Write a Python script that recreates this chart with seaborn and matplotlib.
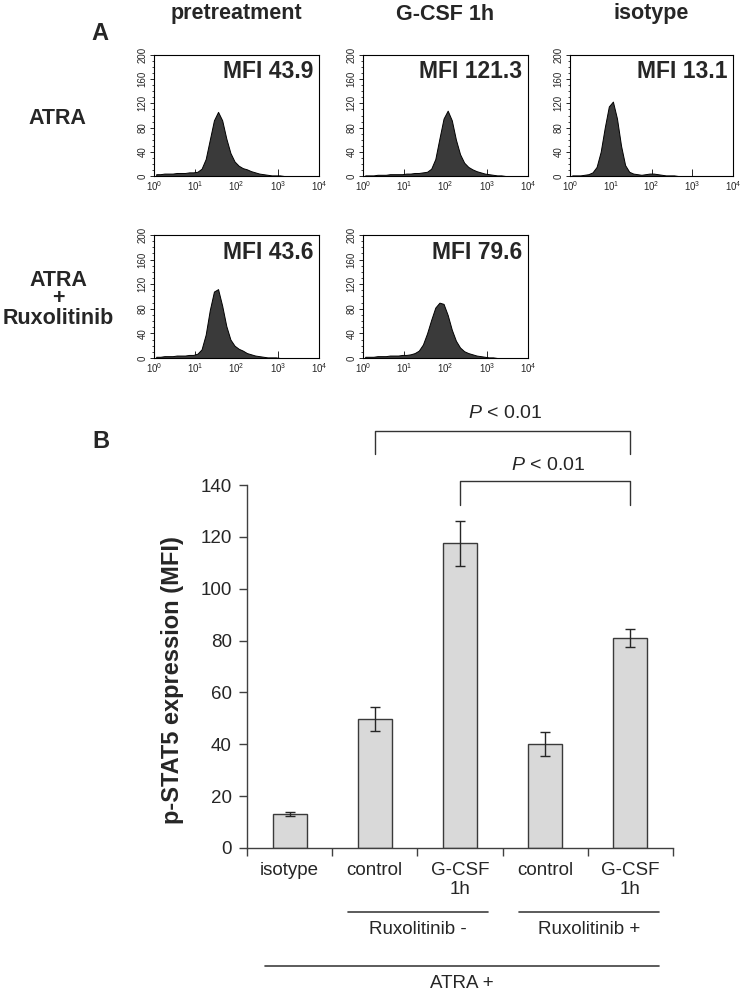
import numpy as np
import pandas as pd
import seaborn as sns
import matplotlib.pyplot as plt
from matplotlib.transforms import blended_transform_factory
from matplotlib.ticker import MultipleLocator, LogLocator, NullFormatter

# ---- panel A: flow histograms (counts per 0.1-decade channel)
log_centers = np.arange(0.05, 4.0, 0.1)

hist_atra_pre = [3, 3, 4, 4, 4, 5, 5, 5, 6, 6, 7, 12, 28, 60, 92, 106, 92, 62, 38, 24,
                 17, 13, 11, 8, 6, 4, 3, 2, 1, 1, 1, 0, 0, 0, 0, 0, 0, 0, 0, 0]
hist_atra_gcsf = [1, 1, 1, 2, 2, 2, 3, 3, 3, 3, 4, 4, 5, 5, 6, 7, 12, 28, 62, 95,
                  108, 92, 60, 36, 22, 15, 11, 8, 6, 4, 3, 2, 1, 1, 0, 0, 0, 0, 0, 0]
hist_isotype = [1, 1, 1, 2, 3, 6, 15, 40, 80, 115, 123, 95, 50, 18, 7, 4, 3, 2, 3, 4,
                4, 3, 2, 1, 1, 1, 0, 0, 0, 0, 0, 0, 0, 0, 0, 0, 0, 0, 0, 0]
hist_rux_pre = [2, 2, 3, 3, 3, 4, 4, 4, 5, 5, 7, 14, 38, 78, 108, 112, 85, 52, 30, 20,
                15, 12, 8, 6, 4, 3, 2, 1, 1, 1, 0, 0, 0, 0, 0, 0, 0, 0, 0, 0]
hist_rux_gcsf = [2, 2, 2, 3, 3, 3, 4, 4, 4, 5, 5, 6, 8, 12, 22, 40, 62, 82, 90, 88,
                 70, 46, 28, 17, 11, 8, 6, 4, 3, 2, 1, 1, 0, 0, 0, 0, 0, 0, 0, 0]

col_titles = ["pretreatment", "G-CSF 1h", "isotype"]
mfi_labels = ["MFI 43.9", "MFI 121.3", "MFI 13.1", "MFI 43.6", "MFI 79.6"]

# ---- panel B: bar chart
conditions = ["isotype", "control (Rux-)", "G-CSF 1h (Rux-)", "control (Rux+)", "G-CSF 1h (Rux+)"]
cond_labels = ["isotype", "control", "G-CSF\n1h", "control", "G-CSF\n1h"]
mfi_mean = [13.1, 49.7, 117.5, 40.1, 81.0]
mfi_err = [0.8, 4.5, 8.6, 4.8, 3.3]

sns.set_style("ticks")
plt.rcParams['font.family'] = ['Liberation Sans', 'DejaVu Sans']
plt.rcParams['mathtext.fontset'] = 'custom'
plt.rcParams['mathtext.rm'] = 'Liberation Sans'
plt.rcParams['mathtext.it'] = 'Liberation Sans:italic'

W, H = 743, 992
fig = plt.figure(figsize=(W / 100, H / 100), dpi=100)


def px_axes(left, top, right, bottom):
    return fig.add_axes([left / W, 1 - bottom / H, (right - left) / W, (bottom - top) / H])


def fig_text(x, y, s, **kw):
    fig.text(x / W, 1 - y / H, s, ha='center', va='center', **kw)


def draw_hist(ax, counts, label):
    sns.histplot(x=10 ** log_centers, weights=counts, bins=40, binrange=(0, 4),
                 log_scale=True, element='poly', fill=True, color='#3a3a3a',
                 edgecolor='black', linewidth=0.7, alpha=1, ax=ax)
    ax.set_xlim(1, 1e4)
    ax.set_ylim(0, 200)
    ax.set_xlabel('')
    ax.set_ylabel('')
    for s in ax.spines.values():
        s.set_visible(True)
        s.set_linewidth(0.8)
        s.set_color('black')
    ax.set_xticks([1, 10, 100, 1000, 10000])
    ax.set_xticklabels([r'$10^{0}$', r'$10^{1}$', r'$10^{2}$', r'$10^{3}$', r'$10^{4}$'], fontsize=7)
    ax.xaxis.set_minor_locator(LogLocator(base=10, subs=np.arange(2, 10)))
    ax.xaxis.set_minor_formatter(NullFormatter())
    ax.set_yticks(range(0, 201, 40))
    ax.set_yticklabels([str(v) for v in range(0, 201, 40)], rotation=90, va='center', fontsize=7)
    ax.yaxis.set_minor_locator(MultipleLocator(10))
    ax.tick_params(axis='x', which='major', direction='in', length=5, width=0.7, pad=2)
    ax.tick_params(axis='x', which='minor', direction='in', length=2.5, width=0.6)
    ax.tick_params(axis='y', which='major', direction='out', length=3, width=0.7, pad=1.5)
    ax.tick_params(axis='y', which='minor', direction='out', length=1.5, width=0.6)
    ax.text(0.965, 0.955, label, transform=ax.transAxes, ha='right', va='top',
            fontsize=16.5, fontweight='bold')


cols = [(154, 319), (363, 528), (570, 733)]
rows = [(55, 176), (235, 358)]
hists = [[hist_atra_pre, hist_atra_gcsf, hist_isotype], [hist_rux_pre, hist_rux_gcsf]]
k = 0
for r, (top, bot) in enumerate(rows):
    for c, counts in enumerate(hists[r]):
        ax = px_axes(cols[c][0], top, cols[c][1], bot)
        draw_hist(ax, counts, mfi_labels[k])
        k += 1

for (l, r), title in zip(cols, col_titles):
    fig_text((l + r) / 2, 14, title, fontsize=15.5, fontweight='bold')
fig_text(100, 33, "A", fontsize=17, fontweight='bold')
fig_text(57, 118, "ATRA", fontsize=15.5, fontweight='bold')
fig_text(58, 280, "ATRA", fontsize=15.5, fontweight='bold')
fig_text(58, 299, "+", fontsize=15.5, fontweight='bold')
fig_text(58, 318, "Ruxolitinib", fontsize=15.5, fontweight='bold')

# ---- panel B
fig_text(101, 442, "B", fontsize=17, fontweight='bold')
bx = px_axes(247, 485, 673, 848)
df = pd.DataFrame({"condition": conditions, "mfi": mfi_mean})
sns.barplot(data=df, x="condition", y="mfi", order=conditions, color='#d9d9d9',
            edgecolor='#3a3a3a', linewidth=1.0, width=0.4, errorbar=None,
            saturation=1, ax=bx)
bx.errorbar(x=np.arange(len(conditions)), y=mfi_mean, yerr=mfi_err, fmt='none',
            ecolor='#262626', elinewidth=1, capsize=3.5, capthick=1)
bx.set_xlim(-0.5, 4.5)
bx.set_ylim(0, 140)
bx.set_yticks(range(0, 141, 20))
bx.set_yticklabels([str(v) for v in range(0, 141, 20)], fontsize=13.5)
bx.set_xticks(np.arange(-0.5, 5, 1))
bx.set_xticklabels([''] * 6)
bx.set_xticks(range(5), minor=True)
bx.set_xticklabels(cond_labels, minor=True, fontsize=13.5)
bx.tick_params(axis='x', which='major', direction='out', length=6, width=1, color='#404040')
bx.tick_params(axis='x', which='minor', length=0, pad=10)
bx.tick_params(axis='y', direction='out', length=6, width=1, color='#404040', pad=5)
bx.set_xlabel('')
bx.set_ylabel('')
sns.despine(ax=bx)
for s in ['left', 'bottom']:
    bx.spines[s].set_color('#404040')
    bx.spines[s].set_linewidth(1)

fig_text(173, 680, "p-STAT5 expression (MFI)", fontsize=17, fontweight='bold', rotation=90)

# significance brackets
bx.plot([1, 1, 4, 4], [151.9, 160.8, 160.8, 151.9], color='#333333', lw=1, clip_on=False)
bx.plot([2, 2, 4, 4], [132.3, 141.5, 141.5, 132.3], color='#333333', lw=1, clip_on=False)
bx.text(2.53, 167.5, r'$P$ < 0.01', ha='center', va='center', fontsize=14)
bx.text(3.03, 147.7, r'$P$ < 0.01', ha='center', va='center', fontsize=14)

# group annotations under the axis
tr = blended_transform_factory(bx.transData, fig.transFigure)
for x0, x1, y, lab, ylab in [(0.68, 2.33, 912, "Ruxolitinib -", 930),
                             (2.69, 4.33, 912, "Ruxolitinib +", 930),
                             (-0.29, 4.33, 966, "ATRA +", 983)]:
    bx.plot([x0, x1], [1 - y / H, 1 - y / H], color='#404040', lw=1.2,
            transform=tr, clip_on=False)
    bx.text((x0 + x1) / 2, 1 - ylab / H, lab, transform=tr, ha='center', va='center',
            fontsize=13.5)

fig.savefig("out.png", dpi=100)
